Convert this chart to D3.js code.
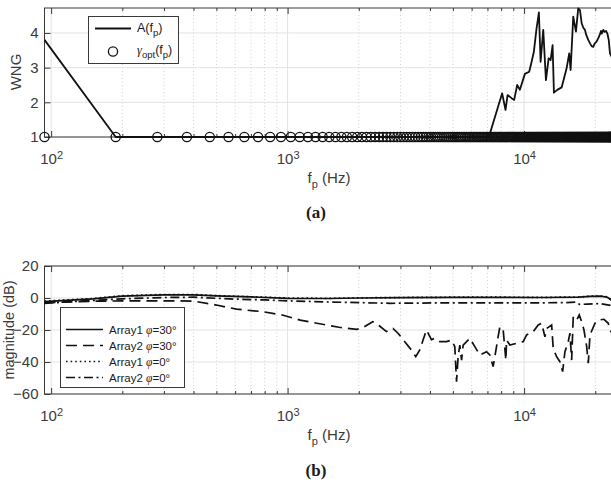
<!DOCTYPE html>
<html lang="en">
<head>
<meta charset="UTF-8"/>
<title>WNG and beam magnitude</title>
<script src="https://d3js.org/d3.v7.min.js"></script>
<style>
    body { margin: 0; background: #fff; }
    svg text { font-family: "Liberation Sans", Arial, sans-serif; fill: #3a3a3a; }
    .tick text { font-size: 15px; }
    .lab { font-size: 15px; }
    .caption { font-family: "Liberation Serif", serif; font-weight: bold; font-size: 17px; fill: #1a1a1a; }
    .leg { fill: #1a1a1a; }
</style>
</head>
<body>
<div id="chart"></div>
<script>

// ---- panel (a): WNG ----
// frequency bins of the optimiser (fs/512 steps)
var binHz = 93.75;
var gammaFreq = d3.range(1, 257).map(function(k) { return k * binHz; });
var gammaOpt = gammaFreq.map(function() { return 1; });

var aFreq = [93.75, 187.5, 7096, 8078, 8347, 8514, 8854, 9080, 9350, 9600,
    10078, 10510, 10760, 11000, 11290, 11550, 11745, 12050, 12370, 12700,
    12950, 13200, 13370, 13810, 14415, 15130, 15520, 15730, 16140, 16570,
    16940, 17230, 17520, 17800, 18090, 18300, 18680, 19000, 19300, 19610,
    19900, 20250, 20600, 20900, 21150, 21300, 21630, 21900, 22200, 22480,
    22800, 23080, 23500, 24000];
var aVal = [3.8, 1, 1, 2.26, 1.78, 2.21, 2.12, 2.07, 2.5, 2.36,
    2.82, 2.88, 3.17, 3.46, 4.13, 4.59, 3.17, 4.09, 2.64, 3.27,
    3.22, 3.65, 2.28, 2.36, 2.43, 2.98, 3.41, 2.93, 4.47, 4.04,
    4.71, 4.66, 4.28, 4.15, 4.09, 3.95, 3.8, 3.7, 3.62, 3.6,
    3.7, 3.75, 3.85, 3.95, 4.06, 3.98, 4.09, 4.03, 4.06, 3.99,
    3.8, 3.41, 3.3, 3.35];

// ---- panel (b): magnitude (dB) ----
var a1Freq = [93.75, 150, 200, 300, 400, 500, 700, 1000, 1500, 2000,
    3000, 5000, 8000, 12000, 17000, 19000, 21000, 22500, 24000];
var array1Phi30 = [-2.3, -0.5, 1.2, 1.9, 1.9, 1.3, 0.7, -0.2, -0.3, 0,
    0.2, 0.4, 0.4, 0.3, 0.5, 1.0, 1.2, 0.5, -2.5];
var array1Phi0 = [-2.0, -0.3, 1.4, 2.2, 2.2, 1.5, 0.8, 0, -0.2, 0.1,
    0.3, 0.5, 0.5, 0.4, 0.6, 1.1, 1.3, 0.6, -2.3];

var a2p0Freq = [93.75, 150, 200, 300, 400, 570, 800, 1000, 1500, 2720,
    5000, 10000, 15000, 16500, 17200, 18500, 21000, 24000];
var array2Phi0 = [-3.3, -1.5, -0.5, 0.3, 0.5, -0.6, -1.2, -1.8, -2.5, -3.3,
    -3.0, -3.1, -2.9, -2.6, -4.0, -3.8, -3.5, -5];

var a2p30Freq = [93.75, 150, 200, 300, 400, 500, 608, 780, 950, 1130,
    1330, 1650, 1960, 2080, 2290, 2450, 2618, 2790, 2930, 3129,
    3340, 3483, 3622, 3739, 3865, 4058, 4191, 4400, 4696, 4932,
    5094, 5180, 5260, 5350, 5440, 5525, 5896, 6191, 6500, 6937,
    7164, 7398, 7522, 7768, 7899, 8158, 8375, 8432, 8708, 9295,
    9913, 10247, 10926, 11473, 11860, 12250, 12454, 13075, 13280, 13726,
    14174, 14554, 14884, 15370, 15627, 15889, 16140, 16685, 17113, 17517,
    17916, 18393, 18683, 18993, 19943, 20593, 21773, 22700, 23080, 24000];
var array2Phi30 = [-3, -2, -1.8, -1.8, -1.9, -4.4, -7, -8.5, -10.6, -13.8,
    -15.8, -18.3, -19.6, -18.5, -14.8, -17.5, -21, -19, -22, -27.3,
    -32.5, -36.7, -32.5, -26.3, -20, -26, -25.2, -27.3, -27.3, -26.3,
    -30.4, -52.3, -36.7, -29.4, -38.8, -29.4, -25.2, -30.4, -35.6, -33.6,
    -35.6, -42.9, -36.7, -24.2, -17.9, -20, -38.8, -26.3, -29.4, -28.3,
    -27.3, -23.1, -21, -16.9, -15.8, -24.2, -19, -16.9, -31.4, -36.7,
    -39.8, -46, -33.6, -27.3, -22, -38.8, -11.7, -13.8, -10.6, -14.8,
    -20, -30.4, -40.8, -23.1, -15.8, -13.8, -13.3, -15.8, -20, -24];

// axis ticks
var xMajor = [100, 1000, 10000];
var xMinor = [200, 300, 400, 500, 600, 700, 800, 900,
    2000, 3000, 4000, 5000, 6000, 7000, 8000, 9000, 20000];
var wngTicks = [1, 2, 3, 4];
var dbTicks = [-60, -40, -20, 0, 20];

var width = 611, height = 483;

var svg = d3.select("#chart")
    .append("svg")
    .attr("width", width)
    .attr("height", height);

var x = d3.scaleLog()
    .domain([93.75, 24000])
    .range([44.5, 614]);

var yA = d3.scaleLinear().domain([1, 4.72]).range([137, 8]);
var yB = d3.scaleLinear().domain([-60, 20]).range([394, 266]);

function drawFrame(y, yTicks) {
    var top = y.range()[1], bottom = y.range()[0];
    var g = svg.append("g");

    // grid
    g.selectAll(null).data(xMinor).enter().append("line")
        .attr("x1", function(d) { return x(d); })
        .attr("x2", function(d) { return x(d); })
        .attr("y1", top).attr("y2", bottom)
        .attr("stroke", "#c4c4c4")
        .attr("stroke-width", 0.8)
        .attr("stroke-dasharray", "1,2.5");
    g.selectAll(null).data(xMajor).enter().append("line")
        .attr("x1", function(d) { return x(d); })
        .attr("x2", function(d) { return x(d); })
        .attr("y1", top).attr("y2", bottom)
        .attr("stroke", "#e2e2e2");
    g.selectAll(null).data(yTicks).enter().append("line")
        .attr("x1", x.range()[0]).attr("x2", x.range()[1])
        .attr("y1", function(d) { return y(d); })
        .attr("y2", function(d) { return y(d); })
        .attr("stroke", "#e2e2e2");

    // ticks, inward like matlab
    g.append("g").attr("transform", "translate(0," + bottom + ")")
        .call(d3.axisBottom(x).tickValues(xMinor).tickSizeInner(-3).tickSizeOuter(0).tickFormat(""));
    g.append("g").attr("transform", "translate(0," + top + ")")
        .call(d3.axisTop(x).tickValues(xMinor).tickSizeInner(-3).tickSizeOuter(0).tickFormat(""));
    g.append("g").attr("transform", "translate(0," + top + ")")
        .call(d3.axisTop(x).tickValues(xMajor).tickSizeInner(-6).tickSizeOuter(0).tickFormat(""));
    var xb = g.append("g").attr("transform", "translate(0," + bottom + ")")
        .call(d3.axisBottom(x).tickValues(xMajor).tickSizeInner(-6).tickSizeOuter(0).tickPadding(10).tickFormat(""));
    xb.selectAll(".tick text")
        .attr("dy", "1.1em")
        .each(function(d) {
            var t = d3.select(this);
            t.append("tspan").text("10");
            t.append("tspan").attr("dy", "-0.45em").style("font-size", "11px").text(Math.round(Math.log10(d)));
        });
    g.append("g").attr("transform", "translate(" + x.range()[0] + ",0)")
        .call(d3.axisLeft(y).tickValues(yTicks).tickFormat(d3.format("d"))
            .tickSizeInner(-6).tickSizeOuter(0).tickPadding(6));
    g.selectAll(".domain").remove();
    g.selectAll(".tick line").attr("stroke", "#3a3a3a");

    g.append("rect")
        .attr("x", x.range()[0]).attr("y", top)
        .attr("width", x.range()[1] - x.range()[0])
        .attr("height", bottom - top)
        .attr("fill", "none")
        .attr("stroke", "#3a3a3a")
        .attr("stroke-width", 1);
    return g;
}

function xLabel(yPos) {
    var t = svg.append("text").attr("class", "lab")
        .attr("x", 329).attr("y", yPos).attr("text-anchor", "middle");
    t.append("tspan").text("f");
    t.append("tspan").attr("dy", 5).style("font-size", "11px").text("p");
    t.append("tspan").attr("dy", -5).text(" (Hz)");
}

// ---------- (a) ----------
drawFrame(yA, wngTicks);

var lineA = d3.line()
    .x(function(d) { return x(d[0]); })
    .y(function(d) { return yA(d[1]); });

svg.append("path")
    .datum(d3.zip(aFreq, aVal))
    .attr("d", lineA)
    .attr("fill", "none")
    .attr("stroke", "#111")
    .attr("stroke-width", 1.8)
    .attr("stroke-linejoin", "round");

svg.selectAll(".gam")
    .data(d3.zip(gammaFreq, gammaOpt))
    .enter()
    .append("circle")
    .attr("class", "gam")
    .attr("cx", function(d) { return x(d[0]); })
    .attr("cy", function(d) { return yA(d[1]); })
    .attr("r", 4.6)
    .attr("fill", "none")
    .attr("stroke", "#111")
    .attr("stroke-width", 1.3);

svg.append("text").attr("class", "lab")
    .attr("transform", "translate(21,72)rotate(-90)")
    .attr("text-anchor", "middle")
    .text("WNG");
xLabel(183);
svg.append("text").attr("class", "caption")
    .attr("x", 316).attr("y", 218).attr("text-anchor", "middle")
    .text("(a)");

// legend (a)
var legA = svg.append("g").attr("class", "legA");
legA.append("rect")
    .attr("x", 88.5).attr("y", 16.5).attr("width", 90).attr("height", 47)
    .attr("fill", "#fff").attr("stroke", "#3a3a3a");
legA.append("line")
    .attr("x1", 95).attr("x2", 131).attr("y1", 28.5).attr("y2", 28.5)
    .attr("stroke", "#111").attr("stroke-width", 1.8);
legA.append("circle")
    .attr("cx", 113).attr("cy", 51.5).attr("r", 4.6)
    .attr("fill", "none").attr("stroke", "#111").attr("stroke-width", 1.3);
var tA = legA.append("text").attr("class", "leg")
    .attr("x", 137).attr("y", 32).style("font-size", "12.5px");
tA.append("tspan").text("A(f");
tA.append("tspan").attr("dy", 4).style("font-size", "9.5px").text("p");
tA.append("tspan").attr("dy", -4).text(")");
var tG = legA.append("text").attr("class", "leg")
    .attr("x", 137).attr("y", 54).style("font-size", "12.5px");
tG.append("tspan").style("font-family", "'Liberation Serif', serif").style("font-style", "italic").text("γ");
tG.append("tspan").attr("dy", 4).style("font-size", "9.5px").text("opt");
tG.append("tspan").attr("dy", -4).text("(f");
tG.append("tspan").attr("dy", 4).style("font-size", "9.5px").text("p");
tG.append("tspan").attr("dy", -4).text(")");

// ---------- (b) ----------
drawFrame(yB, dbTicks);

var lineB = d3.line()
    .x(function(d) { return x(d[0]); })
    .y(function(d) { return yB(d[1]); });

var series = [
    {name: "Array1", phi: "30", f: a1Freq, v: array1Phi30, dash: null},
    {name: "Array2", phi: "30", f: a2p30Freq, v: array2Phi30, dash: "11,6"},
    {name: "Array1", phi: "0", f: a1Freq, v: array1Phi0, dash: "1.6,3"},
    {name: "Array2", phi: "0", f: a2p0Freq, v: array2Phi0, dash: "9,3.5,2,3.5"}
];

svg.selectAll(".ser")
    .data(series)
    .enter()
    .append("path")
    .attr("class", "ser")
    .attr("d", function(s) { return lineB(d3.zip(s.f, s.v)); })
    .attr("fill", "none")
    .attr("stroke", "#111")
    .attr("stroke-width", 1.7)
    .attr("stroke-dasharray", function(s) { return s.dash; });

svg.append("text").attr("class", "lab")
    .attr("transform", "translate(14,330)rotate(-90)")
    .attr("text-anchor", "middle")
    .style("font-size", "14.5px")
    .text("magnitude (dB)");
xLabel(440);
svg.append("text").attr("class", "caption")
    .attr("x", 316).attr("y", 476).attr("text-anchor", "middle")
    .text("(b)");

// legend (b)
var legB = svg.append("g");
legB.append("rect")
    .attr("x", 60.5).attr("y", 307.5).attr("width", 124).attr("height", 80)
    .attr("fill", "#fff").attr("stroke", "#3a3a3a");
var rows = legB.selectAll(".row")
    .data(series)
    .enter()
    .append("g")
    .attr("transform", function(s, i) { return "translate(0," + (329.5 + i * 16) + ")"; });
rows.append("line")
    .attr("x1", 66).attr("x2", 103).attr("y1", 0).attr("y2", 0)
    .attr("stroke", "#111").attr("stroke-width", 1.7)
    .attr("stroke-dasharray", function(s) { return s.dash; });
var rt = rows.append("text").attr("class", "leg")
    .attr("x", 109).attr("y", 4).style("font-size", "11.5px");
rt.append("tspan").text(function(s) { return s.name + " "; });
rt.append("tspan").style("font-family", "'Liberation Serif', serif").style("font-style", "italic").text("φ");
rt.append("tspan").text(function(s) { return "=" + s.phi + "°"; });

</script>
</body>
</html>
